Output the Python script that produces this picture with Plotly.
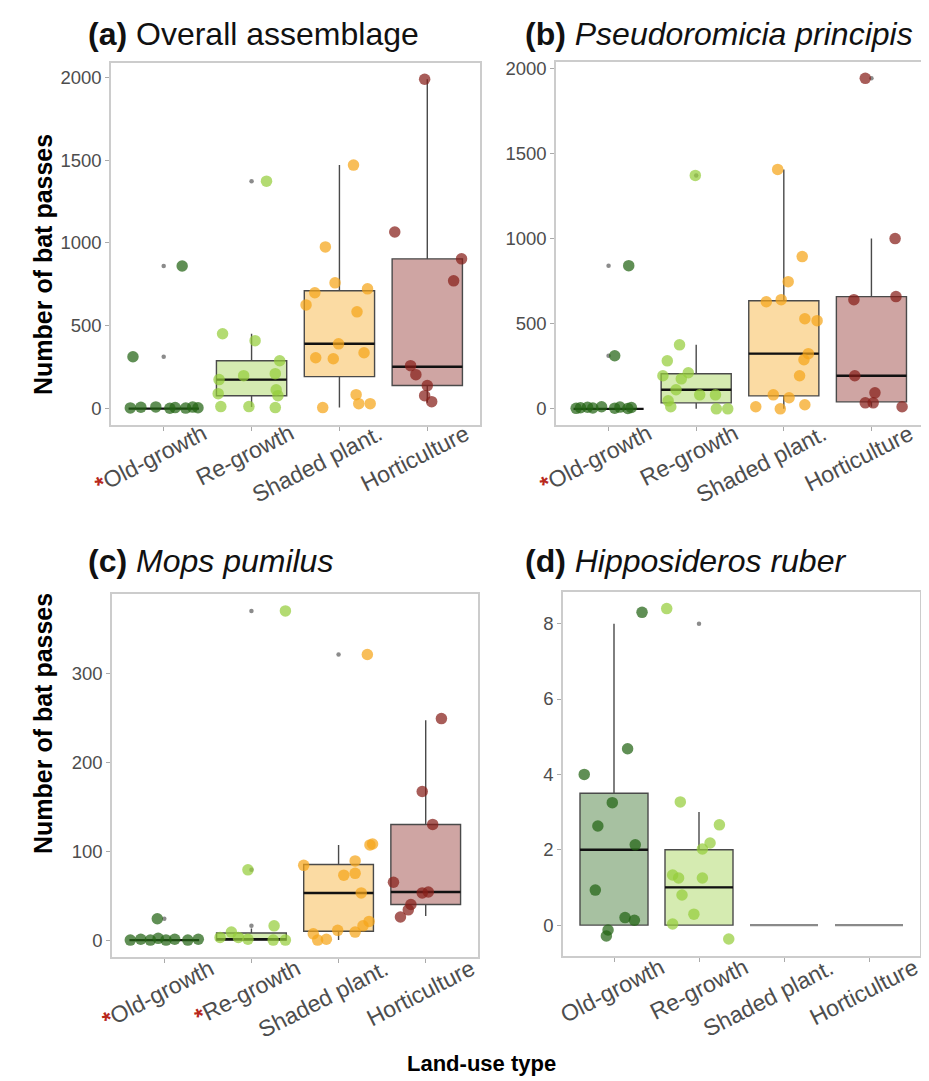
import plotly.graph_objects as go

W, H = 929, 1081

categories = ["Old-growth", "Re-growth", "Shaded plant.", "Horticulture"]
star = "<span style='color:#b8281c'><b>*</b></span>"
labels_ab = [star + "Old-growth", "Re-growth", "Shaded plant.", "Horticulture"]
labels_c = [star + "Old-growth", star + "Re-growth", "Shaded plant.", "Horticulture"]
labels_d = ["Old-growth", "Re-growth", "Shaded plant.", "Horticulture"]

group_rgb = [(35, 100, 20), (150, 205, 60), (245, 165, 25), (135, 30, 25)]

# ---------------- Panel (a) Overall assemblage ----------------
a_q1 = [0, 78, 193, 139]
a_med = [0, 175, 391, 253]
a_q3 = [0, 289, 711, 904]
a_lo = [0, 10, 6, 36]
a_hi = [0, 452, 1470, 1988]
a_out = [[313, 861], [1373], [], []]
a_pts = [
    [313, 861, 4, 8, 10, 2, 6, 3, 9, 5],
    [452, 410, 1373, 289, 211, 199, 175, 90, 114, 78, 12, 12, 6],
    [1470, 976, 759, 723, 699, 626, 584, 391, 337, 307, 301, 84, 30, 30, 6],
    [1988, 1066, 904, 771, 259, 205, 139, 78, 42],
]
a_jit = [
    [-0.35, 0.21, -0.38, -0.26, -0.09, 0.07, 0.13, 0.25, 0.33, 0.39],
    [-0.33, 0.04, 0.17, 0.32, 0.27, -0.09, -0.37, -0.38, 0.28, 0.30, -0.35, -0.03, 0.27],
    [0.16, -0.16, -0.05, 0.32, -0.28, -0.38, 0.20, -0.01, 0.28, -0.27, -0.07, 0.19, 0.22, 0.35, -0.19],
    [-0.03, -0.37, 0.39, 0.30, -0.19, -0.13, 0.00, -0.03, 0.05],
]

# ---------------- Panel (b) Pseudoromicia principis ----------------
b_q1 = [0, 35, 76, 41]
b_med = [0, 112, 324, 194]
b_q3 = [0, 206, 635, 659]
b_lo = [0, 0, 0, 12]
b_hi = [0, 376, 1406, 1000]
b_out = [[312, 841], [1371], [], [1941]]
b_pts = [
    [841, 312, 3, 6, 9, 12, 4, 2, 8, 5, 10],
    [1371, 376, 282, 194, 212, 176, 112, 82, 82, 47, 12, 0, 0],
    [1406, 894, 747, 629, 641, 529, 518, 324, 288, 194, 82, 65, 24, 12, 0],
    [1941, 1000, 641, 659, 194, 94, 35, 35, 12],
]
b_jit = [
    [0.23, 0.07, -0.37, -0.32, -0.24, -0.08, 0.07, 0.22, 0.26, -0.18, 0.13],
    [-0.01, -0.19, -0.33, -0.38, -0.09, -0.17, -0.23, 0.04, 0.22, -0.32, -0.29, 0.23, 0.36],
    [-0.07, 0.21, 0.05, -0.20, -0.03, 0.24, 0.38, 0.28, 0.23, 0.18, -0.12, 0.06, 0.24, -0.32, -0.04],
    [-0.07, 0.27, -0.20, 0.28, -0.19, 0.04, -0.07, 0.02, 0.35],
]

# ---------------- Panel (c) Mops pumilus ----------------
c_q1 = [0, 0, 10, 40]
c_med = [0, 1, 53, 54]
c_q3 = [0, 8, 85, 130]
c_lo = [0, 0, 0, 27]
c_hi = [0, 13, 107, 247]
c_out = [[24], [370, 79, 16], [321], []]
c_pts = [
    [24, 0, 1, 0, 2, 0, 1, 0, 1],
    [370, 79, 16, 3, 9, 3, 1, 0, 0],
    [321, 107, 108, 84, 89, 73, 75, 53, 21, 16, 9, 11, 7, 0, 1],
    [249, 167, 130, 65, 53, 54, 40, 34, 26],
]
c_jit = [
    [-0.08, -0.39, -0.27, -0.16, -0.07, 0.02, 0.12, 0.27, 0.39],
    [0.39, -0.04, 0.26, -0.36, -0.23, -0.15, -0.04, 0.25, 0.39],
    [0.33, 0.36, 0.39, -0.40, 0.19, 0.06, 0.19, 0.26, 0.35, 0.28, 0.19, -0.01, -0.29, -0.24, -0.14],
    [0.18, -0.04, 0.08, -0.37, -0.04, 0.03, -0.17, -0.20, -0.29],
]

# ---------------- Panel (d) Hipposideros ruber ----------------
d_q1 = [0, 0, 0, 0]
d_med = [2, 1, 0, 0]
d_q3 = [3.5, 2, 0, 0]
d_lo = [0, 0, 0, 0]
d_hi = [8, 3, 0, 0]
d_out = [[], [8], [], []]
d_pts = [
    [8.3, 4.68, 4.0, 3.25, 2.63, 2.13, 0.93, 0.2, 0.13, -0.13, -0.29],
    [8.4, 3.27, 2.66, 2.18, 2.02, 1.33, 1.25, 1.25, 0.8, 0.29, 0.03, -0.37],
    [],
    [],
]
d_jit = [
    [0.33, 0.16, -0.35, -0.02, -0.19, 0.25, -0.22, 0.13, 0.24, -0.07, -0.09],
    [-0.38, -0.22, 0.24, 0.13, 0.04, -0.31, -0.24, 0.04, -0.20, -0.06, -0.31, 0.35],
    [],
    [],
]

panels = [
    dict(ax="x", ay="y", q1=a_q1, med=a_med, q3=a_q3, lo=a_lo, hi=a_hi, out=a_out,
         pts=a_pts, jit=a_jit, labels=labels_ab, yr=[-99, 2086], ticks=[0, 500, 1000, 1500, 2000],
         dom_x=(103, 472), dom_y=(55, 417), medcol=["#111"] * 4, lshift=(49, 8)),
    dict(ax="x2", ay="y2", q1=b_q1, med=b_med, q3=b_q3, lo=b_lo, hi=b_hi, out=b_out,
         pts=b_pts, jit=b_jit, labels=labels_ab, yr=[-95, 2037], ticks=[0, 500, 1000, 1500, 2000],
         dom_x=(548, 916), dom_y=(54, 417), medcol=["#111"] * 4, lshift=(49, 8)),
    dict(ax="x3", ay="y3", q1=c_q1, med=c_med, q3=c_q3, lo=c_lo, hi=c_hi, out=c_out,
         pts=c_pts, jit=c_jit, labels=labels_c, yr=[-19, 389], ticks=[0, 100, 200, 300],
         dom_x=(104, 470), dom_y=(586, 949), medcol=["#111"] * 4, lshift=(56, 5)),
    dict(ax="x4", ay="y4", q1=d_q1, med=d_med, q3=d_q3, lo=d_lo, hi=d_hi, out=d_out,
         pts=d_pts, jit=d_jit, labels=labels_d, yr=[-0.82, 8.84], ticks=[0, 2, 4, 6, 8],
         dom_x=(555, 912), dom_y=(584, 948), medcol=["#111", "#111", "#8a8a8a", "#8a8a8a"],
         lshift=(56, 5)),
]


def rgba(c, a):
    return "rgba(%d,%d,%d,%.2f)" % (c[0], c[1], c[2], a)


fig = go.Figure()
for p in panels:
    for k in range(4):
        xpos = k + 1
        allzero = p["q1"][k] == p["q3"][k] == p["hi"][k] == p["lo"][k]
        if not allzero:
            fig.add_trace(go.Box(
                x=[xpos], q1=[p["q1"][k]], median=[p["med"][k]], q3=[p["q3"][k]],
                lowerfence=[p["lo"][k]], upperfence=[p["hi"][k]],
                fillcolor=rgba(group_rgb[k], 0.40), line=dict(color="#4a4a4a", width=1.4),
                width=0.8, whiskerwidth=0, boxpoints=False,
                xaxis=p["ax"], yaxis=p["ay"], showlegend=False, hoverinfo="skip"))
        m = p["med"][k]
        fig.add_trace(go.Box(
            x=[xpos], q1=[m], median=[m], q3=[m], lowerfence=[m], upperfence=[m],
            fillcolor="rgba(0,0,0,0)", line=dict(color=p["medcol"][k], width=2.4),
            width=0.8, whiskerwidth=0, boxpoints=False,
            xaxis=p["ax"], yaxis=p["ay"], showlegend=False, hoverinfo="skip"))
    for k in range(4):
        if p["out"][k]:
            fig.add_trace(go.Scatter(
                x=[k + 1] * len(p["out"][k]), y=p["out"][k], mode="markers",
                marker=dict(size=4.5, color="rgba(100,100,100,0.75)"),
                xaxis=p["ax"], yaxis=p["ay"], showlegend=False, hoverinfo="skip"))
    for k in range(4):
        if p["pts"][k]:
            fig.add_trace(go.Scatter(
                x=[k + 1 + d for d in p["jit"][k]], y=p["pts"][k], mode="markers",
                marker=dict(size=11.5, color=rgba(group_rgb[k], 0.72), line=dict(width=0)),
                xaxis=p["ax"], yaxis=p["ay"], showlegend=False, hoverinfo="skip"))

FONT = "Liberation Sans, Arial, sans-serif"
tick_font = dict(family=FONT, size=18.5, color="#4d4d4d")
xlab_font = dict(family=FONT, size=23, color="#4d4d4d")

layout = dict(width=W, height=H, margin=dict(l=0, r=0, t=0, b=0, autoexpand=False),
              paper_bgcolor="white", plot_bgcolor="white", showlegend=False, boxmode="overlay")
for i, p in enumerate(panels):
    sx = "xaxis" if i == 0 else "xaxis%d" % (i + 1)
    sy = "yaxis" if i == 0 else "yaxis%d" % (i + 1)
    layout[sx] = dict(
        domain=[p["dom_x"][0] / W, p["dom_x"][1] / W], anchor=p["ay"],
        range=[0.4, 4.6], tickvals=[1, 2, 3, 4], showticklabels=False,
        ticks="outside", ticklen=4, tickcolor="#aaaaaa", automargin=False,
        showline=True, mirror=True, linecolor="#cccccc", linewidth=1.5,
        showgrid=False, zeroline=False, fixedrange=True)
    layout[sy] = dict(
        domain=[1 - p["dom_y"][1] / H, 1 - p["dom_y"][0] / H], anchor=p["ax"],
        range=p["yr"], tickvals=p["ticks"], ticks="outside", ticklen=4, tickcolor="#aaaaaa",
        tickfont=tick_font, showline=True, mirror=True, linecolor="#cccccc", linewidth=1.5,
        showgrid=False, zeroline=False, fixedrange=True, automargin=False)
fig.update_layout(**layout)

# rotated category labels under each panel
for p in panels:
    for k in range(4):
        fig.add_annotation(text=p["labels"][k], x=k + 1, xref=p["ax"],
                           y=1 - p["dom_y"][1] / H, yref="paper",
                           xanchor="right", yanchor="top", textangle=-27,
                           xshift=p["lshift"][0], yshift=p["lshift"][1],
                           showarrow=False, font=xlab_font)

title_font = dict(family=FONT, size=32, color="#111111")
titles = [
    ("<b>(a)</b> Overall assemblage", 78, 26),
    ("<b>(b)</b> <i>Pseudoromicia principis</i>", 515, 26),
    ("<b>(c)</b> <i>Mops pumilus</i>", 78, 553),
    ("<b>(d)</b> <i>Hipposideros ruber</i>", 515, 553),
]
for txt, xp, yp in titles:
    fig.add_annotation(text=txt, x=xp / W, y=1 - yp / H, xref="paper", yref="paper",
                       xanchor="left", yanchor="middle", showarrow=False, font=title_font)

axis_title_font = dict(family=FONT, size=25, color="#000000")
for yp in (257, 716):
    fig.add_annotation(text="<b>Number of bat passes</b>", x=35 / W, y=1 - yp / H,
                       xref="paper", yref="paper", textangle=-90, showarrow=False,
                       xanchor="center", yanchor="middle", font=axis_title_font)
fig.add_annotation(text="<b>Land-use type</b>", x=473 / W, y=1 - 1055 / H, xref="paper",
                   yref="paper", showarrow=False, xanchor="center", yanchor="middle",
                   font=dict(family=FONT, size=22, color="#000000"))

fig.write_html("out.html")
